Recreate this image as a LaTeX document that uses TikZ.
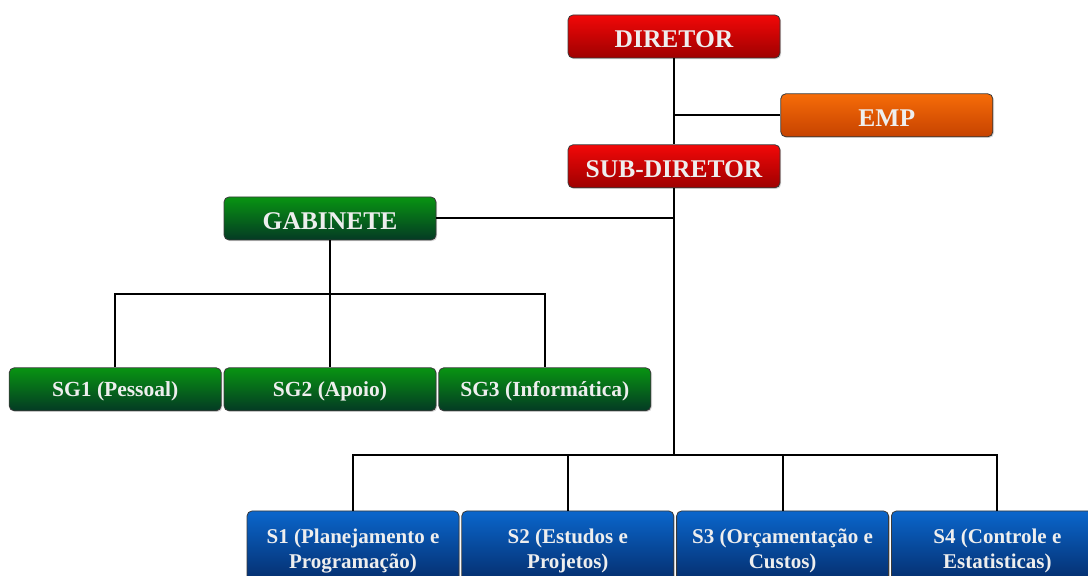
\documentclass[tikz,border=0pt]{standalone}
\usepackage{fontspec}
\setmainfont{Liberation Serif}
\usetikzlibrary{positioning, shadows}
\definecolor{redtop}{RGB}{242,8,8}
\definecolor{redbot}{RGB}{158,0,0}
\definecolor{orgtop}{RGB}{246,108,8}
\definecolor{orgbot}{RGB}{198,66,0}
\definecolor{grntop}{RGB}{8,148,18}
\definecolor{grnbot}{RGB}{4,58,36}
\definecolor{blutop}{RGB}{10,102,204}
\definecolor{blubot}{RGB}{4,38,96}
\definecolor{edge}{RGB}{58,58,58}
\definecolor{label}{RGB}{238,238,238}

\begin{document}
\begin{tikzpicture}[
  x=1pt, y=1pt,
  unit/.style={draw=edge, line width=0.8pt, rounded corners=5pt,
               minimum width=212pt, minimum height=43pt, inner sep=0pt,
               text=label, align=center,
               drop shadow={shadow xshift=1.2pt, shadow yshift=-1.2pt, opacity=0.3}},
  chief/.style={unit, top color=redtop, bottom color=redbot, text height=23pt, text depth=0pt,
                font=\bfseries\fontsize{25.5}{28}\selectfont},
  staff/.style={unit, top color=orgtop, bottom color=orgbot, text height=23pt, text depth=0pt,
                font=\bfseries\fontsize{25.5}{28}\selectfont},
  cabinet/.style={unit, top color=grntop, bottom color=grnbot, text height=23pt, text depth=0pt,
                  font=\bfseries\fontsize{25.5}{28}\selectfont},
  subcab/.style={unit, top color=grntop, bottom color=grnbot, text height=17pt, text depth=3pt,
                 font=\bfseries\fontsize{21.5}{24}\selectfont},
  section/.style={unit, top color=blutop, bottom color=blubot, minimum height=80pt,
                  font=\bfseries\fontsize{21}{25}\selectfont},
  conn/.style={line width=2pt, black},
]
  \clip (0,0) rectangle (1088,576);

  % Direction
  \node[chief] (dir) at (674,539.5) {DIRETOR};
  \node[staff, below right=35pt and 0pt of dir.south east] (emp) {EMP};
  \node[chief, below=86pt of dir] (sub) {SUB-DIRETOR};

  % Cabinet
  \node[cabinet] (gab) at (330,357.5) {GABINETE};
  \node[subcab, below=127pt of gab] (sg2) {SG2 (Apoio)};
  \node[subcab, left=2pt of sg2] (sg1) {SG1 (Pessoal)};
  \node[subcab, right=2pt of sg2] (sg3) {SG3 (Informática)};

  % Sections
  \node[section] (s1) at (353,25) {S1 (Planejamento e\\Programação)};
  \node[section, right=2pt of s1] (s2) {S2 (Estudos e\\Projetos)};
  \node[section, right=2pt of s2] (s3) {S3 (Orçamentação e\\Custos)};
  \node[section, right=2pt of s3] (s4) {S4 (Controle e\\Estatisticas)};

  % Lines
  \coordinate (bus) at (dir.south |- 0,121);
  \coordinate (sgbus) at ([yshift=-54pt]gab.south);
  \draw[conn] (dir.south) -- (sub.north);
  \draw[conn] (emp.west) -- (emp.west -| dir.south);
  \draw[conn] (gab.east) -- (gab.east -| sub.south);
  \draw[conn] (sub.south) -- (bus);
  \draw[conn] (gab.south) -- (sg2.north);
  \draw[conn] (sg1.north) |- (sgbus) -| (sg3.north);
  \draw[conn] (s1.north) |- (bus) -| (s4.north);
  \draw[conn] (s2.north) -- (s2.north |- bus);
  \draw[conn] (s3.north) -- (s3.north |- bus);
\end{tikzpicture}
\end{document}
